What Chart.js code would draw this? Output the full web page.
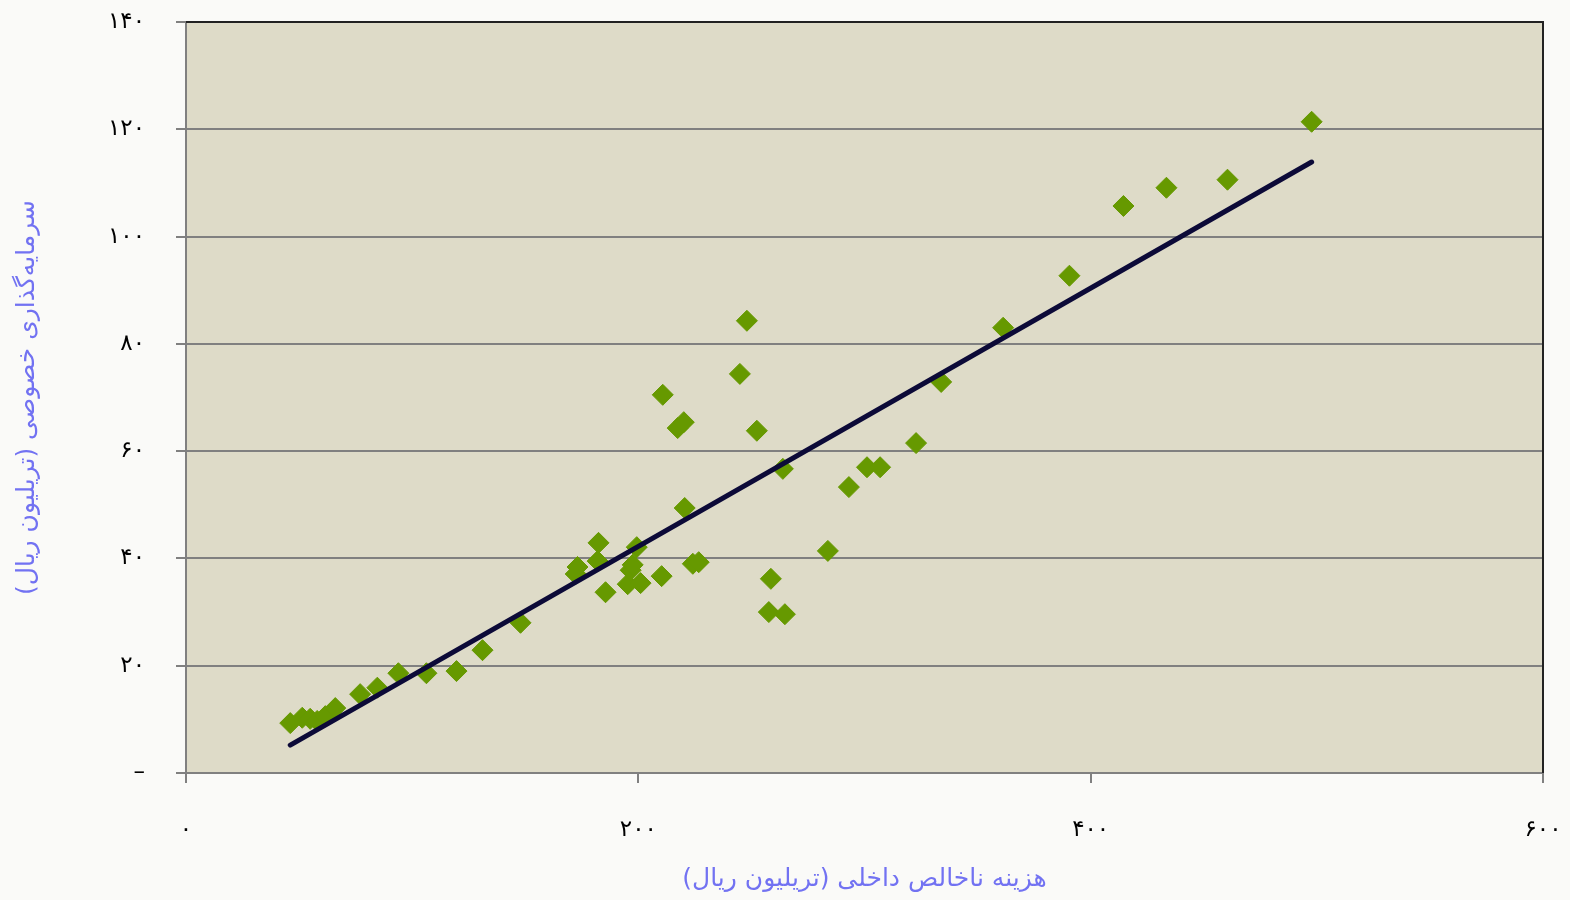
<!DOCTYPE html>
<html lang="fa">
<head>
<meta charset="utf-8">
<title>سرمایه‌گذاری خصوصی و هزینه ناخالص داخلی</title>
<script src="https://cdn.jsdelivr.net/npm/chart.js@4"></script>
<style>
  html, body { margin: 0; padding: 0; background: #fafaf8; }
  #wrap { width: 1570px; height: 900px; }
</style>
</head>
<body>
<div id="wrap"><canvas id="scatterChart"></canvas></div>
<script>
// هزینه ناخالص داخلی (محور افقی) و سرمایه‌گذاری خصوصی (محور عمودی)
const gdpValues = [46.1, 51.4, 54.9, 58.0, 61.6, 66.0, 77.0, 84.6, 93.9, 106.3, 119.6, 131.1, 147.9,
  172.3, 173.1, 182.0, 182.4, 185.5, 195.3, 196.6, 197.5, 199.3, 201.0, 210.3, 210.8, 217.4, 220.1,
  220.5, 224.1, 226.7, 244.9, 248.0, 252.4, 257.7, 258.6, 263.9, 264.8, 283.8, 293.1, 301.1, 306.9,
  322.8, 333.9, 361.3, 390.6, 414.5, 433.5, 460.5, 497.7];
const investValues = [9.3, 10.3, 10.1, 9.7, 10.6, 12.1, 14.7, 15.9, 18.6, 18.6, 19.0, 22.9, 28.0,
  37.1, 38.4, 39.5, 42.9, 33.7, 35.2, 37.8, 38.8, 42.1, 35.4, 36.7, 70.5, 64.3, 65.4,
  49.4, 39.0, 39.3, 74.4, 84.3, 63.8, 30.0, 36.2, 56.7, 29.6, 41.4, 53.3, 57.0, 57.0,
  61.5, 72.9, 83.0, 92.7, 105.7, 109.1, 110.6, 121.4];
// خط روند (دو سر خط)
const trendX = [46.1, 497.7];
const trendY = [5.2, 113.9];

const xTickLabels = { 0: '۰', 200: '۲۰۰', 400: '۴۰۰', 600: '۶۰۰' };
const yTickLabels = { 0: '–', 20: '۲۰', 40: '۴۰', 60: '۶۰', 80: '۸۰', 100: '۱۰۰', 120: '۱۲۰', 140: '۱۴۰' };

const points = gdpValues.map((x, i) => ({ x: x, y: investValues[i] }));
const trend = trendX.map((x, i) => ({ x: x, y: trendY[i] }));

// پس‌زمینه و قاب ناحیه نمودار
const plotFrame = {
  id: 'plotFrame',
  beforeDraw(chart) {
    const { ctx, chartArea: a } = chart;
    ctx.save();
    ctx.fillStyle = '#dedbc8';
    ctx.fillRect(a.left, a.top, a.right - a.left, a.bottom - a.top);
    ctx.restore();
  },
  afterDatasetsDraw(chart) {
    const { ctx, chartArea: a } = chart;
    ctx.save();
    ctx.strokeStyle = '#222222';
    ctx.lineWidth = 2;
    ctx.beginPath();
    ctx.moveTo(a.left, a.top);
    ctx.lineTo(a.right, a.top);
    ctx.lineTo(a.right, a.bottom);
    ctx.stroke();
    ctx.restore();
  }
};

const titleColor = '#7272f2';
const fontFamily = '"DejaVu Sans", sans-serif';

document.addEventListener('DOMContentLoaded', function () {
  const ctx = document.getElementById('scatterChart').getContext('2d');
  new Chart(ctx, {
    type: 'scatter',
    data: {
      datasets: [{
        label: 'داده‌ها',
        data: points,
        pointStyle: 'rectRot',
        pointRadius: 10.5,
        pointHoverRadius: 10.5,
        backgroundColor: '#669900',
        borderColor: '#669900',
        borderWidth: 1,
        order: 2
      }, {
        label: 'خط روند',
        type: 'line',
        data: trend,
        borderColor: '#0c0a38',
        borderWidth: 5,
        borderCapStyle: 'round',
        pointRadius: 0,
        fill: false,
        order: 1
      }]
    },
    options: {
      responsive: true,
      maintainAspectRatio: false,
      animation: false,
      layout: { padding: { left: 0, right: 27, top: 22, bottom: 0 } },
      plugins: {
        legend: { display: false },
        tooltip: { enabled: false }
      },
      scales: {
        x: {
          type: 'linear',
          min: 0,
          max: 600,
          afterFit: function (scale) {
            scale.height = 127;
            scale.paddingLeft = 0;
            scale.paddingRight = 0;
          },
          ticks: {
            stepSize: 200,
            padding: 33,
            color: '#000',
            font: { family: fontFamily, size: 23 },
            maxRotation: 0,
            callback: v => xTickLabels[v]
          },
          grid: { drawOnChartArea: false, drawTicks: true, tickLength: 10, color: '#808080', lineWidth: 2 },
          border: { color: '#808080', width: 2 },
          title: {
            display: true,
            text: 'هزینه ناخالص داخلی (تریلیون ریال)',
            color: titleColor,
            font: { family: fontFamily, size: 25 },
            padding: { top: 0, bottom: 6 }
          }
        },
        y: {
          min: 0,
          max: 140,
          afterFit: function (scale) {
            scale.width = 186;
            scale.paddingTop = 0;
            scale.paddingBottom = 0;
          },
          ticks: {
            stepSize: 20,
            padding: 31,
            color: '#000',
            font: { family: fontFamily, size: 23 },
            callback: v => yTickLabels[v]
          },
          grid: { drawTicks: true, tickLength: 10, color: '#808080', lineWidth: 2 },
          border: { color: '#808080', width: 2 },
          title: {
            display: true,
            text: 'سرمایه‌گذاری خصوصی (تریلیون ریال)',
            color: titleColor,
            font: { family: fontFamily, size: 25 },
            padding: { top: 12, bottom: 0 }
          }
        }
      }
    },
    plugins: [plotFrame]
  });
});
</script>
</body>
</html>
